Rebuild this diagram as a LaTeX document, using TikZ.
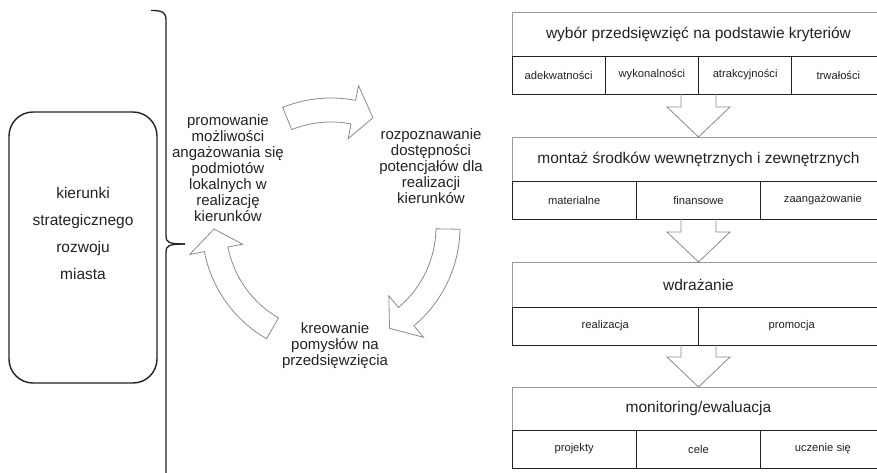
\documentclass[tikz,border=0pt]{standalone}
\usepackage{fontspec}
\setmainfont{Liberation Sans}
\usetikzlibrary{calc}
\definecolor{ink}{HTML}{222222}
\definecolor{lgray}{HTML}{9A9A9A}
\definecolor{agray}{HTML}{8A8A8A}
\newcommand{\cycarrow}[3]{%
  \draw[cyc] ({-(#1)}:{\rr+\hw}) arc[start angle={-(#1)}, end angle={-(#2)}, radius={\rr+\hw}]
    -- ({-(#2)}:{\rr+\HW}) -- ({-(#3)}:{\rr}) -- ({-(#2)}:{\rr-\HW}) -- ({-(#2)}:{\rr-\hw})
    arc[start angle={-(#2)}, end angle={-(#1)}, radius={\rr-\hw}] -- cycle;}
\def\rr{117}
\def\hw{12}
\def\HW{27}
\tikzset{
  tbox/.style={draw=lgray, line width=0.8pt, inner sep=0pt, outer sep=0pt, minimum width=373,
    anchor=north west, text=ink, font=\fontsize{15.5}{18}\selectfont},
  cell/.style={draw=ink, line width=0.9pt, inner sep=0pt, outer sep=0pt, minimum height=38,
    anchor=north west, text=ink, font=\fontsize{11.2}{13}\selectfont},
  ctext/.style={align=center, inner sep=0pt, text=ink, font=\fontsize{15}{16}\selectfont},
  cyc/.style={draw=agray, line width=0.8pt, line join=miter},
  barrow/.style={draw=agray, line width=0.8pt, line join=miter},
  brace/.style={draw=ink, line width=1.3pt},
}
\begin{document}
\begin{tikzpicture}[x=1pt,y=-1pt]
\useasboundingbox (0,0) rectangle (877,473);
\clip (0,0) rectangle (877,473);

% left box
\node[draw=ink, line width=1.4pt, rounded corners=24, minimum width=148, minimum height=271,
  inner sep=0pt] (lbox) at (83,247.5) {};
\node[align=center, inner sep=0pt, text=ink, font=\fontsize{15.5}{27}\selectfont] (ltxt) at (83,233.5)
  {kierunki\\strategicznego\\rozwoju\\miasta};

% brace
\draw[brace] (151,10.5) .. controls (162,10.5) and (166,12) .. (166,20) -- (166,236)
  .. controls (166,242) and (168,244) .. (185,244);
\draw[brace] (185,244) .. controls (168,244) and (166,246) .. (166,252) -- (166,480);

% cycle texts
\node[ctext] (p1) at (228,168) {promowanie\\możliwości\\angażowania się\\podmiotów\\lokalnych w\\realizację\\kierunków};
\node[ctext] (p2) at (431,166) {rozpoznawanie\\dostępności\\potencjałów dla\\realizacji\\kierunków};
\node[ctext] (p3) at (335,346) {kreowanie\\pomysłów na\\przedsięwzięcia};

% cycle arrows
\begin{scope}[shift={(331,227)}]
  \cycarrow{112}{79}{69}
  \cycarrow{-1}{-50}{-60}
  \cycarrow{240}{191}{181}
\end{scope}

% right boxes
\node[tbox, minimum height=44] (t1) at (512,12) {wybór przedsięwzięć na podstawie kryteriów};
\node[cell, minimum width=93.25] (c11) at (t1.south west) {adekwatności};
\node[cell, minimum width=93.25] (c12) at (c11.north east) {wykonalności};
\node[cell, minimum width=93.25] (c13) at (c12.north east) {atrakcyjności};
\node[cell, minimum width=93.25] (c14) at (c13.north east) {trwałości};

\node[tbox, minimum height=44] (t2) at (512,137) {montaż środków wewnętrznych i zewnętrznych};
\node[cell, minimum width=124.33] (c21) at (t2.south west) {materialne};
\node[cell, minimum width=124.33] (c22) at (c21.north east) {finansowe};
\node[cell, minimum width=124.33] (c23) at (c22.north east) {zaangażowanie};

\node[tbox, minimum height=45] (t3) at (512,262) {wdrażanie};
\node[cell, minimum width=186.5] (c31) at (t3.south west) {realizacja};
\node[cell, minimum width=186.5] (c32) at (c31.north east) {promocja};

\node[tbox, minimum height=43] (t4) at (512,387) {monitoring/ewaluacja};
\node[cell, minimum width=124.33] (c41) at (t4.south west) {projekty};
\node[cell, minimum width=124.33] (c42) at (c41.north east) {cele};
\node[cell, minimum width=124.33] (c43) at (c42.north east) {uczenie się};

% down arrows
\coordinate (a1s) at (t2.north |- c11.south);
\coordinate (a2s) at (t3.north |- c21.south);
\coordinate (a3s) at (t4.north |- c31.south);
\draw[barrow] let \p1=(a1s), \p2=(t2.north) in
  ({\x1-17.5pt},\y1) -- ({\x1-17.5pt},{\y2+30pt}) -- ({\x1-31.5pt},{\y2+30pt}) -- (\p2)
  -- ({\x1+31.5pt},{\y2+30pt}) -- ({\x1+17.5pt},{\y2+30pt}) -- ({\x1+17.5pt},\y1);
\draw[barrow] let \p1=(a2s), \p2=(t3.north) in
  ({\x1-17.5pt},\y1) -- ({\x1-17.5pt},{\y2+30pt}) -- ({\x1-31.5pt},{\y2+30pt}) -- (\p2)
  -- ({\x1+31.5pt},{\y2+30pt}) -- ({\x1+17.5pt},{\y2+30pt}) -- ({\x1+17.5pt},\y1);
\draw[barrow] let \p1=(a3s), \p2=(t4.north) in
  ({\x1-17.5pt},\y1) -- ({\x1-17.5pt},{\y2+30pt}) -- ({\x1-31.5pt},{\y2+30pt}) -- (\p2)
  -- ({\x1+31.5pt},{\y2+30pt}) -- ({\x1+17.5pt},{\y2+30pt}) -- ({\x1+17.5pt},\y1);
\end{tikzpicture}
\end{document}
